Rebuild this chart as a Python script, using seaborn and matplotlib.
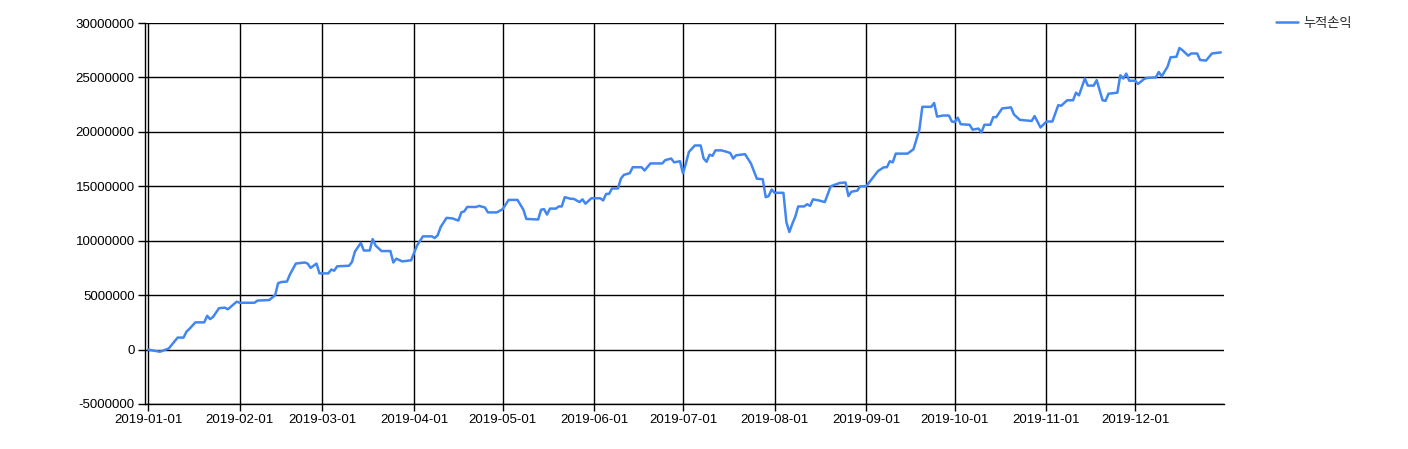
import matplotlib
matplotlib.use("Agg")
import matplotlib.pyplot as plt
import matplotlib.dates as mdates
from matplotlib.ticker import FuncFormatter
import seaborn as sns
import pandas as pd

dates = [
    "2019-01-01", "2019-01-05", "2019-01-08", "2019-01-11", "2019-01-13", "2019-01-14", "2019-01-15",
    "2019-01-17", "2019-01-20", "2019-01-21", "2019-01-22", "2019-01-23", "2019-01-25", "2019-01-27",
    "2019-01-28", "2019-01-31", "2019-02-01", "2019-02-06", "2019-02-07", "2019-02-11", "2019-02-13",
    "2019-02-14", "2019-02-15", "2019-02-17", "2019-02-18", "2019-02-20", "2019-02-23", "2019-02-24",
    "2019-02-25", "2019-02-27", "2019-02-28", "2019-03-03", "2019-03-04", "2019-03-05", "2019-03-06",
    "2019-03-10", "2019-03-11", "2019-03-12", "2019-03-14", "2019-03-15", "2019-03-17", "2019-03-18",
    "2019-03-19", "2019-03-21", "2019-03-24", "2019-03-25", "2019-03-26", "2019-03-28", "2019-03-31",
    "2019-04-02", "2019-04-04", "2019-04-07", "2019-04-08", "2019-04-09", "2019-04-10", "2019-04-12",
    "2019-04-14", "2019-04-16", "2019-04-17", "2019-04-18", "2019-04-19", "2019-04-22", "2019-04-23",
    "2019-04-25", "2019-04-26", "2019-04-29", "2019-05-01", "2019-05-03", "2019-05-06", "2019-05-08",
    "2019-05-09", "2019-05-13", "2019-05-14", "2019-05-15", "2019-05-16", "2019-05-17", "2019-05-19",
    "2019-05-20", "2019-05-21", "2019-05-22", "2019-05-24", "2019-05-25", "2019-05-27", "2019-05-28",
    "2019-05-29", "2019-05-31", "2019-06-03", "2019-06-04", "2019-06-05", "2019-06-06", "2019-06-07",
    "2019-06-09", "2019-06-10", "2019-06-11", "2019-06-13", "2019-06-14", "2019-06-17", "2019-06-18",
    "2019-06-20", "2019-06-24", "2019-06-25", "2019-06-27", "2019-06-28", "2019-06-30", "2019-07-01",
    "2019-07-02", "2019-07-03", "2019-07-05", "2019-07-07", "2019-07-08", "2019-07-09", "2019-07-10",
    "2019-07-11", "2019-07-12", "2019-07-14", "2019-07-16", "2019-07-17", "2019-07-18", "2019-07-19",
    "2019-07-22", "2019-07-24", "2019-07-26", "2019-07-28", "2019-07-29", "2019-07-30", "2019-07-31",
    "2019-08-01", "2019-08-04", "2019-08-05", "2019-08-06", "2019-08-07", "2019-08-08", "2019-08-09",
    "2019-08-11", "2019-08-12", "2019-08-13", "2019-08-14", "2019-08-16", "2019-08-18", "2019-08-20",
    "2019-08-23", "2019-08-25", "2019-08-26", "2019-08-27", "2019-08-29", "2019-08-30", "2019-09-01",
    "2019-09-03", "2019-09-05", "2019-09-07", "2019-09-08", "2019-09-09", "2019-09-10", "2019-09-11",
    "2019-09-15", "2019-09-17", "2019-09-18", "2019-09-19", "2019-09-20", "2019-09-23", "2019-09-24",
    "2019-09-25", "2019-09-27", "2019-09-29", "2019-09-30", "2019-10-01", "2019-10-02", "2019-10-03",
    "2019-10-06", "2019-10-07", "2019-10-09", "2019-10-10", "2019-10-11", "2019-10-13", "2019-10-14",
    "2019-10-15", "2019-10-17", "2019-10-20", "2019-10-21", "2019-10-23", "2019-10-25", "2019-10-27",
    "2019-10-28", "2019-10-30", "2019-11-01", "2019-11-03", "2019-11-05", "2019-11-06", "2019-11-08",
    "2019-11-10", "2019-11-11", "2019-11-12", "2019-11-14", "2019-11-15", "2019-11-17", "2019-11-18",
    "2019-11-20", "2019-11-21", "2019-11-22", "2019-11-25", "2019-11-26", "2019-11-27", "2019-11-28",
    "2019-11-29", "2019-12-01", "2019-12-02", "2019-12-04", "2019-12-05", "2019-12-08", "2019-12-09",
    "2019-12-10", "2019-12-12", "2019-12-13", "2019-12-15", "2019-12-16", "2019-12-17", "2019-12-19",
    "2019-12-20", "2019-12-22", "2019-12-23", "2019-12-25", "2019-12-27", "2019-12-30",
]

# cumulative profit/loss in millions
pnl_m = [
    0.0, -0.2, 0.1, 1.1, 1.1, 1.65, 1.9,
    2.5, 2.5, 3.1, 2.8, 3.0, 3.8, 3.85,
    3.7, 4.4, 4.3, 4.3, 4.5, 4.55, 5.0,
    6.1, 6.2, 6.25, 6.9, 7.9, 8.0, 7.9,
    7.5, 7.9, 7.0, 7.0, 7.35, 7.25, 7.65,
    7.7, 8.05, 9.0, 9.8, 9.1, 9.1, 10.15,
    9.55, 9.05, 9.05, 8.0, 8.35, 8.1, 8.2,
    9.55, 10.4, 10.4, 10.25, 10.5, 11.25, 12.1,
    12.05, 11.85, 12.6, 12.7, 13.1, 13.1, 13.2,
    13.05, 12.6, 12.6, 12.9, 13.75, 13.75, 12.85,
    12.0, 11.95, 12.85, 12.9, 12.4, 12.95, 12.95,
    13.15, 13.15, 14.0, 13.85, 13.85, 13.55, 13.8,
    13.4, 13.9, 13.9, 13.7, 14.3, 14.3, 14.8,
    14.8, 15.7, 16.05, 16.2, 16.75, 16.75, 16.45,
    17.1, 17.1, 17.4, 17.55, 17.2, 17.3, 16.2,
    17.1, 18.15, 18.75, 18.75, 17.55, 17.25, 17.9,
    17.8, 18.3, 18.3, 18.15, 18.05, 17.55, 17.85,
    17.95, 17.1, 15.7, 15.65, 14.0, 14.1, 14.7,
    14.4, 14.4, 11.7, 10.8, 11.55, 12.2, 13.15,
    13.15, 13.35, 13.2, 13.8, 13.7, 13.55, 15.0,
    15.3, 15.35, 14.1, 14.5, 14.6, 15.0, 15.0,
    15.7, 16.4, 16.75, 16.75, 17.3, 17.2, 18.0,
    18.0, 18.4, 19.3, 20.2, 22.3, 22.3, 22.65,
    21.4, 21.5, 21.5, 20.95, 20.9, 21.3, 20.7,
    20.65, 20.2, 20.3, 19.95, 20.65, 20.65, 21.35,
    21.35, 22.15, 22.25, 21.6, 21.1, 21.05, 21.0,
    21.45, 20.4, 20.95, 20.95, 22.45, 22.4, 22.9,
    22.9, 23.6, 23.35, 24.9, 24.25, 24.25, 24.75,
    22.9, 22.85, 23.5, 23.6, 25.2, 24.9, 25.35,
    24.7, 24.7, 24.4, 24.85, 24.95, 25.0, 25.5,
    25.1, 26.0, 26.85, 26.9, 27.7, 27.5, 27.0,
    27.2, 27.2, 26.6, 26.55, 27.2, 27.3,
]

series_name = "누적손익"
y_ticks = [-5000000, 0, 5000000, 10000000, 15000000, 20000000, 25000000, 30000000]

df = pd.DataFrame({
    "date": pd.to_datetime(dates),
    series_name: [v * 1_000_000 for v in pnl_m],
})

sns.set_style("white")
plt.rcParams["font.family"] = ["Liberation Sans", "Noto Sans CJK KR", "DejaVu Sans"]

fig = plt.figure(figsize=(14.08, 4.49), dpi=100)
ax = fig.add_axes([144.5 / 1408, 1 - 404 / 449, (1224 - 144.5) / 1408, (404 - 23) / 449])

sns.lineplot(data=df, x="date", y=series_name, ax=ax, color="#4286f0",
             linewidth=1.8, label=series_name, legend=False)

start = pd.Timestamp("2019-01-01")
ax.set_xlim(start - pd.Timedelta(hours=29), start + pd.Timedelta(hours=364 * 24 + 2))
ax.set_ylim(y_ticks[0], y_ticks[-1])
ax.set_yticks(y_ticks)
ax.yaxis.set_major_formatter(FuncFormatter(lambda v, p: f"{int(round(v))}"))
ax.xaxis.set_major_locator(mdates.MonthLocator())
ax.xaxis.set_major_formatter(mdates.DateFormatter("%Y-%m-%d"))

ax.grid(True, color="black", linewidth=1)
ax.set_axisbelow(True)
for s in ["top", "right"]:
    ax.spines[s].set_visible(False)
for s in ["left", "bottom"]:
    ax.spines[s].set_color("black")
    ax.spines[s].set_linewidth(1)
ax.tick_params(axis="both", which="major", length=5, width=1, color="black",
               labelsize=9.5, labelcolor="black", direction="out", bottom=True, left=True, pad=2)
ax.set_xlabel("")
ax.set_ylabel("")

handles, labels = ax.get_legend_handles_labels()
fig.legend(handles, labels, loc="center left", bbox_to_anchor=(1264 / 1408, 1 - 23 / 449),
           frameon=False, handlelength=1.7, handletextpad=0.4,
           prop={"family": ["Noto Sans CJK KR", "DejaVu Sans"], "size": 9.5})

fig.savefig("out.png", dpi=100)
